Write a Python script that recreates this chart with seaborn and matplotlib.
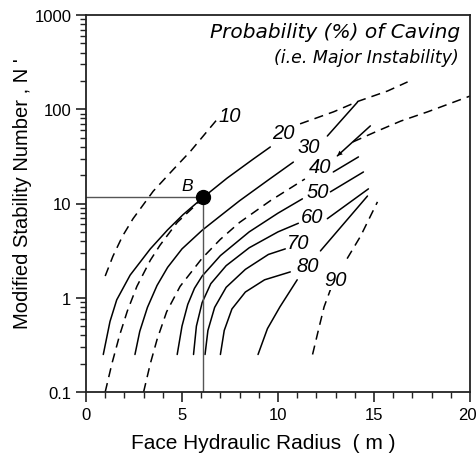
import matplotlib
matplotlib.use('Agg')
import matplotlib.pyplot as plt
import matplotlib.transforms as mtransforms
import seaborn as sns
import pandas as pd
from matplotlib.ticker import LogLocator, NullFormatter, MultipleLocator

# Isoprobability curves (x = hydraulic radius, y = N')
c10_x = [1.0, 1.4, 1.9, 2.45, 3.5, 4.55, 5.45, 6.85]
c10_y = [1.7, 2.75, 4.5, 6.9, 13.5, 23, 36, 79]

c20_x = [0.9, 1.25, 1.6, 2.3, 3.35, 4.25, 5.05, 6.1, 7.35, 8.7, 9.6]
c20_y = [0.25, 0.56, 0.95, 1.74, 3.3, 5.25, 7.6, 11.6, 18.6, 29.5, 39.8]
c20_ext_x = [11.15, 12.9, 14.2, 15.7, 16.75]
c20_ext_y = [70, 94, 122, 156, 195]

ca_x = [1.0, 1.35, 1.75, 2.15, 2.65, 3.35, 3.85, 4.75, 5.8, 6.1]
ca_y = [0.1, 0.2, 0.4, 0.72, 1.32, 2.5, 3.6, 6.3, 10, 11.6]

c30_x = [2.55, 2.8, 3.2, 3.7, 4.25, 5.0, 6.05, 7.0, 8.0, 9.5, 10.8]
c30_y = [0.25, 0.44, 0.79, 1.35, 2.1, 3.3, 5.2, 7.4, 10.7, 17.8, 27.5]
c30_ext_x = [12.57, 14.14]
c30_ext_y = [52, 119]

c40_x = [3.0, 3.35, 3.7, 4.2, 4.9, 6.05, 7.0, 8.0, 9.6, 11.4]
c40_y = [0.1, 0.2, 0.36, 0.71, 1.32, 2.63, 4.17, 6.3, 10.7, 18.2]
c40_ext_x = [13.09, 14.81]
c40_ext_y = [32, 66.6]

right_x = [13.9, 15.2, 16.4, 17.8, 20.0]
right_y = [45, 59, 75, 94, 138]

c50_x = [4.75, 5.0, 5.3, 5.65, 6.05, 7.0, 8.5, 10.0, 11.27]
c50_y = [0.25, 0.5, 0.85, 1.26, 1.7, 2.8, 5.0, 7.9, 11.2]
c50_ext_x = [12.88, 14.19]
c50_ext_y = [21.6, 31.2]

c60_x = [5.6, 5.75, 6.05, 6.5, 7.3, 8.5, 10.0, 11.06]
c60_y = [0.25, 0.5, 0.89, 1.41, 2.19, 3.39, 5.0, 6.17]
c60_ext_x = [12.73, 14.45]
c60_ext_y = [13.3, 21.6]

c70_x = [6.2, 6.35, 6.7, 7.3, 8.3, 9.5, 10.38]
c70_y = [0.25, 0.45, 0.79, 1.29, 2.0, 2.88, 3.3]
c70_ext_x = [12.57, 14.71]
c70_ext_y = [6.9, 14.3]

c75_x = [7.0, 7.2, 7.6, 8.3, 9.3, 10.64]
c75_y = [0.25, 0.45, 0.76, 1.15, 1.55, 1.88]
c80_ext_x = [12.21, 14.66]
c80_ext_y = [3.14, 12.0]

c80_x = [8.96, 9.45, 10.1, 11.0]
c80_y = [0.25, 0.47, 0.8, 1.55]

c90_x = [11.8, 12.1, 12.4, 12.75]
c90_y = [0.25, 0.45, 0.8, 1.25]
c90_ext_x = [13.6, 14.3, 15.18]
c90_ext_y = [2.6, 4.5, 10.4]

curves = [
    ('c10', c10_x, c10_y, 'dashed'),
    ('c20', c20_x, c20_y, 'solid'),
    ('c20e', c20_ext_x, c20_ext_y, 'dashed'),
    ('ca', ca_x, ca_y, 'dashed'),
    ('c30', c30_x, c30_y, 'solid'),
    ('c30e', c30_ext_x, c30_ext_y, 'solid'),
    ('c40', c40_x, c40_y, 'dashed'),
    ('c40e', c40_ext_x, c40_ext_y, 'solid'),
    ('right', right_x, right_y, 'dashed'),
    ('c50', c50_x, c50_y, 'solid'),
    ('c50e', c50_ext_x, c50_ext_y, 'solid'),
    ('c60', c60_x, c60_y, 'solid'),
    ('c60e', c60_ext_x, c60_ext_y, 'solid'),
    ('c70', c70_x, c70_y, 'solid'),
    ('c70e', c70_ext_x, c70_ext_y, 'solid'),
    ('c75', c75_x, c75_y, 'solid'),
    ('c80e', c80_ext_x, c80_ext_y, 'solid'),
    ('c80', c80_x, c80_y, 'solid'),
    ('c90', c90_x, c90_y, 'dashed'),
    ('c90e', c90_ext_x, c90_ext_y, 'dashed'),
]

# curve labels
lab_text = ['10', '20', '30', '40', '50', '60', '70', '80', '90']
lab_x = [7.51, 10.28, 11.58, 12.2, 12.05, 11.79, 11.06, 11.53, 12.99]
lab_y = [85, 56, 40, 24.4, 13.3, 7.2, 3.9, 2.2, 1.55]

# case study point B
b_x = 6.1
b_y = 11.6

rows = []
for name, xs, ys, kind in curves:
    for i in range(len(xs)):
        rows.append({'curve': name, 'x': xs[i], 'y': ys[i], 'kind': kind})
df = pd.DataFrame(rows)

sns.set_theme(style='ticks')
plt.rcParams['font.family'] = ['Liberation Sans', 'DejaVu Sans']
plt.rcParams['text.color'] = 'black'
plt.rcParams['axes.labelcolor'] = 'black'
plt.rcParams['xtick.labelcolor'] = 'black'
plt.rcParams['ytick.labelcolor'] = 'black'

fig = plt.figure(figsize=(4.77, 4.56), dpi=100)
ax = fig.add_axes([86 / 477, 1 - 393 / 456, 384 / 477, 377 / 456])

sns.lineplot(data=df, x='x', y='y', units='curve', style='kind', estimator=None,
             sort=False, color='black', lw=1.1, legend=False, ax=ax,
             dashes={'solid': '', 'dashed': (6, 4)})

# small arrow head at the lower end of the 40 % extension
ax.annotate('', xy=(c40_ext_x[0], c40_ext_y[0]), xytext=(c40_ext_x[1], c40_ext_y[1]),
            arrowprops=dict(arrowstyle='-|>', color='black', lw=0, mutation_scale=9,
                            shrinkA=0, shrinkB=0))

# reference lines to point B
ax.plot([0, b_x], [b_y, b_y], color='#555555', lw=1.0)
ax.plot([b_x, b_x], [0.1, b_y], color='#555555', lw=1.0)
ax.plot([b_x], [b_y], 'o', color='black', ms=10)
ax.text(b_x - 0.85, b_y * 1.35, 'B', fontsize=12.5, style='italic', ha='center', va='center')

for t, x, y in zip(lab_text, lab_x, lab_y):
    ax.text(x, y, t, fontsize=14.5, style='italic', ha='center', va='center',
            bbox=dict(facecolor='white', edgecolor='none', pad=0.3))

ax.text(0.975, 0.982, 'Probability (%) of Caving', transform=ax.transAxes,
        fontsize=14.5, style='italic', ha='right', va='top', family='DejaVu Sans')
ax.text(0.97, 0.912, '(i.e. Major Instability)', transform=ax.transAxes,
        fontsize=12.5, style='italic', ha='right', va='top', family='DejaVu Sans')

ax.set_yscale('log')
ax.set_xlim(0, 20)
ax.set_ylim(0.1, 1000)
ax.set_xticks([0, 5, 10, 15, 20])
ax.xaxis.set_minor_locator(MultipleLocator(1))
ax.set_yticks([0.1, 1, 10, 100, 1000])
ax.set_yticklabels(['0.1', '1', '10', '100', '1000'])
ax.yaxis.set_minor_locator(LogLocator(base=10, subs=range(2, 10)))
ax.yaxis.set_minor_formatter(NullFormatter())
ax.tick_params(axis='both', which='major', direction='out', length=7, width=1.2,
               labelsize=12, color='#222222')
ax.tick_params(axis='both', which='minor', direction='out', length=4, width=1.0,
               color='#222222')
for s in ax.spines.values():
    s.set_linewidth(1.3)
    s.set_color('#222222')

# keep the last x tick label inside the picture
last = ax.get_xticklabels()[-1]
last.set_horizontalalignment('right')
last.set_transform(last.get_transform() + mtransforms.ScaledTranslation(7 / 100, 0, fig.dpi_scale_trans))

ax.set_xlabel('Face Hydraulic Radius  ( m )', fontsize=15)
ax.set_ylabel("Modified Stability Number , N '", fontsize=14.5)
ax.xaxis.set_label_coords(0.461, -0.108)
ax.yaxis.set_label_coords(-0.14, 0.53)

fig.savefig('out.png', dpi=100)
